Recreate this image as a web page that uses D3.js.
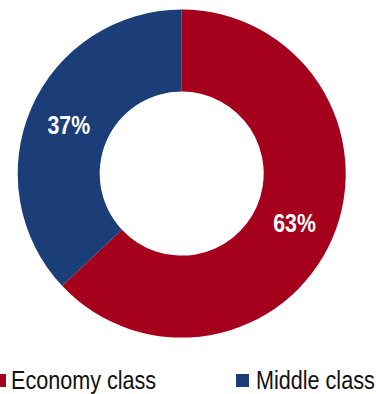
<!DOCTYPE html>
<html>
<head>
<meta charset="utf-8">
<script src="https://cdn.jsdelivr.net/npm/d3@7"></script>
<style>
  body { margin: 0; background: #fff; }
  svg { display: block; font-family: "Liberation Sans", Arial, sans-serif; }
</style>
</head>
<body>
<svg id="chart" width="376" height="394"></svg>
<script>
// данные диаграммы
const categories = ["Economy class", "Middle class"];
const shares = [63, 37];
const colors = ["#A5001C", "#1B3D78"];

const width = 376, height = 394;
const cx = 181.7, cy = 173.6;
const outerR = 164, innerR = 82;
const narrow = 0.82; // имитация узкого шрифта

const svg = d3.select("#chart");

const data = categories.map((c, i) => ({ name: c, value: shares[i], color: colors[i] }));

// пирог без сортировки, начинаем сверху по часовой
const pie = d3.pie().value(d => d.value).sort(null);
const arc = d3.arc().innerRadius(innerR).outerRadius(outerR);
const labelArc = d3.arc().innerRadius(123).outerRadius(123);

const g = svg.append("g").attr("transform", `translate(${cx},${cy})`);

g.selectAll("path")
  .data(pie(data))
  .enter()
  .append("path")
  .attr("d", arc)
  .attr("fill", d => d.data.color);

// подписи процентов
g.selectAll("text.pct")
  .data(pie(data))
  .enter()
  .append("text")
  .attr("class", "pct")
  .attr("transform", d => `translate(${labelArc.centroid(d)}) scale(${narrow},1)`)
  .attr("text-anchor", "middle")
  .attr("dy", "0.36em")
  .style("font-size", "26px")
  .style("font-weight", "bold")
  .style("fill", "#fff")
  .text(d => d.data.value + "%");

// легенда
const legendX = [-7, 236];
const legend = svg.selectAll("g.legend")
  .data(data)
  .enter()
  .append("g")
  .attr("class", "legend")
  .attr("transform", (d, i) => `translate(${legendX[i]}, 374)`);

legend.append("rect")
  .attr("width", 13)
  .attr("height", 13)
  .attr("fill", d => d.color);

legend.append("text")
  .attr("transform", (d, i) => `translate(${i === 0 ? 18 : 20}, 14.5) scale(0.815,1)`)
  .style("font-size", "26.5px")
  .style("fill", "#111")
  .text(d => d.name);
</script>
</body>
</html>
